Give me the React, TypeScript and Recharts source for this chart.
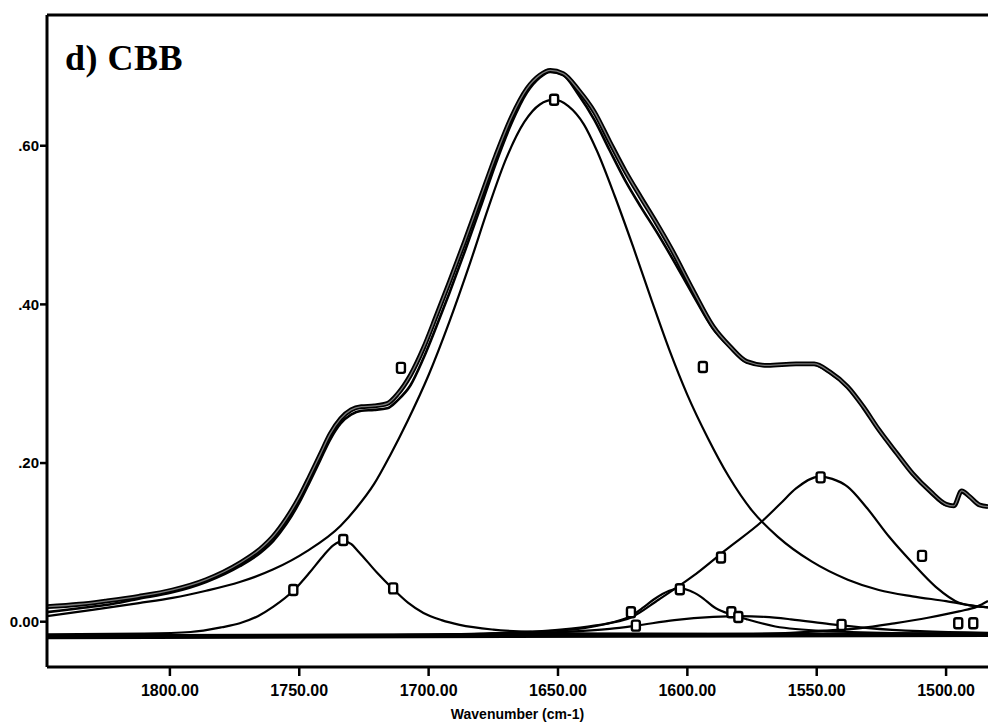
import { ComposedChart, Line, ReferenceLine, Scatter, XAxis, YAxis } from 'recharts';

// wavenumber axis runs right-to-left like the instrument plot
const xDomain = [1483.8, 1847.5];
const yDomain = [-0.0571, 0.7648];
const xTicks = [1800, 1750, 1700, 1650, 1600, 1550, 1500];
const yTicks = [0, 0.2, 0.4, 0.6];

// [wavenumber, absorbance]
const measured: [number, number][] = [
  [1847.5, 0.019], [1835, 0.022], [1825, 0.026], [1812, 0.032], [1799, 0.04],
  [1786, 0.053], [1773, 0.074], [1765, 0.092], [1760, 0.108], [1755, 0.13],
  [1750, 0.157], [1746, 0.183], [1742, 0.21], [1738, 0.237], [1734, 0.256],
  [1730, 0.267], [1726, 0.271], [1721, 0.272], [1716, 0.275], [1712, 0.287],
  [1707, 0.311], [1702, 0.345], [1697, 0.386], [1692, 0.428], [1686, 0.48],
  [1680, 0.534], [1674, 0.588], [1668, 0.636], [1662, 0.672], [1657, 0.689],
  [1653, 0.695], [1648, 0.691], [1642, 0.67], [1636, 0.643], [1630, 0.605],
  [1624, 0.568], [1618, 0.535], [1612, 0.503], [1606, 0.469], [1598, 0.419],
  [1590, 0.372], [1583.5, 0.347], [1577, 0.328], [1569, 0.323], [1558, 0.325],
  [1551, 0.325], [1545, 0.315], [1538, 0.296], [1532, 0.271], [1526, 0.242],
  [1519, 0.212], [1513, 0.187], [1506, 0.164], [1500, 0.148], [1497, 0.146],
  [1494, 0.165], [1491, 0.158], [1487, 0.147], [1483.8, 0.145],
];

const fitted: [number, number][] = [
  [1847.5, 0.012], [1835, 0.017], [1825, 0.021], [1812, 0.029], [1799, 0.037],
  [1786, 0.05], [1773, 0.07], [1765, 0.087], [1760, 0.102], [1755, 0.123],
  [1750, 0.15], [1746, 0.176], [1742, 0.203], [1738, 0.23], [1734, 0.25],
  [1730, 0.261], [1726, 0.266], [1721, 0.267], [1716, 0.269], [1712, 0.279],
  [1707, 0.298], [1702, 0.332], [1697, 0.372], [1692, 0.414], [1686, 0.467],
  [1680, 0.522], [1674, 0.578], [1668, 0.628], [1662, 0.667], [1657, 0.686],
  [1653, 0.693], [1648, 0.689], [1642, 0.664], [1636, 0.633], [1630, 0.594],
  [1624, 0.556], [1618, 0.523], [1612, 0.492], [1606, 0.459], [1598, 0.413],
  [1590, 0.369], [1583.5, 0.346], [1577, 0.327], [1569, 0.323], [1558, 0.325],
  [1551, 0.324], [1545, 0.314], [1538, 0.295], [1532, 0.27], [1526, 0.241],
  [1519, 0.211], [1513, 0.186], [1506, 0.163], [1500, 0.147], [1497, 0.146],
  [1494, 0.163], [1491, 0.157], [1487, 0.147], [1483.8, 0.145],
];

const band1652: [number, number][] = [
  [1847.5, 0.007], [1830, 0.015], [1812, 0.0235], [1799, 0.03], [1786, 0.039],
  [1773, 0.05], [1760, 0.066], [1747, 0.089], [1734, 0.121], [1728, 0.143],
  [1721, 0.174], [1715, 0.209], [1708, 0.254], [1700, 0.311], [1692, 0.378],
  [1684, 0.452], [1677, 0.521], [1670, 0.584], [1663, 0.63], [1657, 0.652],
  [1651.5, 0.658], [1646, 0.65], [1640, 0.627], [1635, 0.594], [1628, 0.536],
  [1621, 0.473], [1614, 0.407], [1607, 0.343], [1600, 0.286], [1592, 0.231],
  [1584, 0.183], [1575, 0.14], [1565, 0.107], [1552, 0.076], [1538, 0.053],
  [1526, 0.04], [1513, 0.032], [1500, 0.026], [1487, 0.019], [1483.8, 0.018],
];

const band1733: [number, number][] = [
  [1847.5, -0.016], [1810, -0.015], [1792, -0.013], [1780, -0.007], [1773, -0.002],
  [1766, 0.007], [1760, 0.019], [1752, 0.04], [1746, 0.062], [1741, 0.082],
  [1737, 0.096], [1733, 0.102], [1730, 0.098], [1727, 0.088], [1720, 0.062],
  [1714, 0.042], [1708, 0.024], [1702, 0.011], [1695, 0.002], [1688, -0.004],
  [1675, -0.01], [1660, -0.013], [1630, -0.015], [1560, -0.016], [1483.8, -0.017],
];

const band1549: [number, number][] = [
  [1720, -0.017], [1680, -0.015], [1655, -0.012], [1640, -0.008], [1630, -0.002],
  [1622, 0.005], [1611, 0.028], [1598, 0.057], [1585, 0.091], [1571, 0.127],
  [1564, 0.149], [1558, 0.168], [1549, 0.183], [1544, 0.18], [1538, 0.17],
  [1531, 0.145], [1522, 0.107], [1513, 0.074], [1504, 0.044], [1495, 0.024],
  [1487, 0.019], [1483.8, 0.018],
];

const band1603: [number, number][] = [
  [1700, -0.017], [1670, -0.014], [1649, -0.01], [1636, -0.005], [1628, 0.0],
  [1622, 0.007], [1617, 0.018], [1613, 0.028], [1607, 0.039], [1603, 0.042],
  [1599, 0.039], [1595, 0.032], [1589, 0.017], [1583, 0.009], [1577, 0.003],
  [1566, -0.006], [1545, -0.012], [1510, -0.015], [1483.8, -0.016],
];

const band1580: [number, number][] = [
  [1700, -0.017], [1670, -0.015], [1650, -0.013], [1630, -0.009], [1620, -0.005],
  [1605, 0.002], [1590, 0.006], [1580, 0.007], [1570, 0.006], [1560, 0.003],
  [1545, -0.003], [1530, -0.008], [1510, -0.012], [1483.8, -0.014],
];

const band1480: [number, number][] = [
  [1580, -0.016], [1560, -0.014], [1545, -0.011], [1533, -0.008], [1520, -0.002],
  [1507, 0.005], [1495, 0.013], [1488, 0.019], [1483.8, 0.026],
];

const baseline: [number, number][] = [
  [1847.5, -0.019], [1483.8, -0.016],
];

const markers: [number, number][] = [
  [1752.3, 0.04], [1733, 0.103], [1713.7, 0.042], [1710.7, 0.32], [1651.5, 0.658],
  [1594, 0.321], [1587, 0.081], [1548.5, 0.182], [1509.3, 0.083], [1621.8, 0.012],
  [1602.9, 0.041], [1583, 0.012], [1619.9, -0.005], [1580.3, 0.006], [1540.4, -0.004],
  [1495.3, -0.002], [1489.5, -0.002],
];

const toRows = (pts: [number, number][]) => pts.map(([w, v]) => ({ w, v }));

const components = [band1652, band1733, band1549, band1603, band1580, band1480];

const tickFont = { fontFamily: 'Liberation Sans, Arial, sans-serif', fontWeight: 700, fontSize: 15, fill: '#000' };

const fmtY = (v: number) => (v === 0 ? '0.00' : v.toFixed(2).replace(/^0/, ''));

const Marker = (props: any) => {
  const { cx, cy } = props;
  if (cx == null || cy == null) return null;
  return <rect x={cx - 4} y={cy - 5} width={8} height={10} rx={2} fill="#fff" stroke="#000" strokeWidth={2.4} />;
};

export default function App() {
  return (
    <div style={{ position: 'absolute', left: 0, top: 0, width: 988, height: 728, background: '#fff' }}>
      <ComposedChart width={988} height={728} margin={{ top: 15, right: 0, bottom: 0, left: 0 }}>
        <XAxis
          dataKey="w"
          type="number"
          domain={xDomain}
          reversed
          allowDataOverflow
          ticks={xTicks}
          interval={0}
          tickFormatter={(v: number) => v.toFixed(2)}
          height={61}
          tickSize={9}
          tickMargin={9}
          tick={{ ...tickFont, fontSize: 16 }}
          axisLine={{ stroke: '#000', strokeWidth: 3 }}
          tickLine={{ stroke: '#000', strokeWidth: 2.5 }}
          label={{ value: 'Wavenumber (cm-1)', position: 'insideBottom', offset: 9, ...tickFont, fontSize: 14 }}
        />
        <YAxis
          type="number"
          domain={yDomain}
          allowDataOverflow
          ticks={yTicks}
          interval={0}
          tickFormatter={fmtY}
          width={47}
          tickSize={7}
          tickMargin={1}
          tick={tickFont}
          axisLine={{ stroke: '#000', strokeWidth: 3 }}
          tickLine={{ stroke: '#000', strokeWidth: 2.5 }}
        />
        <ReferenceLine y={yDomain[1]} stroke="#000" strokeWidth={3} />
        <Line data={toRows(baseline)} dataKey="v" type="linear" stroke="#000" strokeWidth={5} dot={false} activeDot={false} isAnimationActive={false} />
        {components.map((c, i) => (
          <Line key={i} data={toRows(c)} dataKey="v" type="monotone" stroke="#000" strokeWidth={2.2} dot={false} activeDot={false} isAnimationActive={false} />
        ))}
        <Line data={toRows(fitted)} dataKey="v" type="monotone" stroke="#000" strokeWidth={2.6} dot={false} activeDot={false} isAnimationActive={false} />
        <Line data={toRows(measured)} dataKey="v" type="monotone" stroke="#000" strokeWidth={4.8} dot={false} activeDot={false} isAnimationActive={false} />
        <Line data={toRows(measured)} dataKey="v" type="monotone" stroke="#7a7a7a" strokeWidth={1.3} dot={false} activeDot={false} isAnimationActive={false} />
        <Scatter data={toRows(markers)} dataKey="v" shape={Marker} isAnimationActive={false} />
      </ComposedChart>
      <div
        style={{
          position: 'absolute',
          left: 65,
          top: 40,
          fontFamily: 'Liberation Serif, Times New Roman, serif',
          fontWeight: 700,
          fontSize: 36,
          lineHeight: '36px',
          letterSpacing: 0.5,
          color: '#000',
          whiteSpace: 'nowrap',
        }}
      >
        d) CBB
      </div>
    </div>
  );
}
